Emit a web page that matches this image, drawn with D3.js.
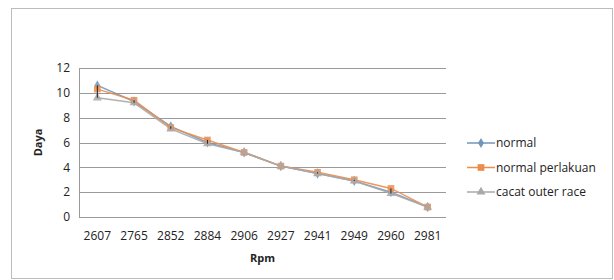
<!DOCTYPE html>
<meta charset="utf-8">
<html>
<head>
<style>
  body { margin: 0; background: #fff; }
  text { font-family: "Open Sans", sans-serif; fill: #222; }
</style>
</head>
<body>
<div id="chart"></div>
<script src="https://d3js.org/d3.v7.min.js"></script>
<script>
// data
const rpm = ["2607", "2765", "2852", "2884", "2906", "2927", "2941", "2949", "2960", "2981"];
const normal = [10.6, 9.3, 7.3, 6.0, 5.2, 4.1, 3.5, 2.9, 2.0, 0.8];
const normalPerlakuan = [10.3, 9.4, 7.2, 6.2, 5.2, 4.1, 3.6, 3.0, 2.3, 0.8];
const cacatOuterRace = [9.6, 9.2, 7.1, 5.9, 5.2, 4.1, 3.5, 2.9, 1.9, 0.8];
const yTicks = [0, 2, 4, 6, 8, 10, 12];

const series = [
  { name: "normal", values: normal, color: "#7096bb", shape: d3.symbolDiamond, size: 30 },
  { name: "normal perlakuan", values: normalPerlakuan, color: "#ec8d4e", shape: d3.symbolSquare, size: 45 },
  { name: "cacat outer race", values: cacatOuterRace, color: "#a9a9a9", shape: d3.symbolTriangle, size: 35 }
];

const W = 614, H = 280;
const svg = d3.select("#chart").append("svg").attr("width", W).attr("height", H);

// outer frame
svg.append("rect").attr("x", 11.5).attr("y", 8.5).attr("width", 601).attr("height", 270)
  .attr("fill", "none").attr("stroke", "#bcbcbc");

const x = d3.scaleBand().domain(rpm).range([79, 446]);
const y = d3.scaleLinear().domain([0, 12]).range([217, 68]);

// gridlines
svg.append("g").selectAll("line").data(yTicks).join("line")
  .attr("x1", 79).attr("x2", 446)
  .attr("y1", d => Math.round(y(d)) + 0.5).attr("y2", d => Math.round(y(d)) + 0.5)
  .attr("stroke", "#9a9a9a").attr("stroke-width", 1);

svg.append("line").attr("x1", 79.5).attr("x2", 79.5).attr("y1", y(12)).attr("y2", y(0))
  .attr("stroke", "#9a9a9a");

// y tick labels
svg.append("g").selectAll("text").data(yTicks).join("text")
  .attr("x", 70).attr("y", d => y(d)).attr("dy", "0.35em")
  .attr("text-anchor", "end").style("font-size", "12px").text(d => d);

// x tick labels
svg.append("g").selectAll("text").data(rpm).join("text")
  .attr("x", d => x(d) + x.bandwidth() / 2).attr("y", 240)
  .attr("text-anchor", "middle").style("font-size", "12px").text(d => d);

// axis titles
svg.append("text").attr("transform", "translate(42," + ((y(0) + y(12)) / 2) + ") rotate(-90)")
  .attr("text-anchor", "middle").style("font-size", "11px").style("font-weight", "bold").text("Daya");
svg.append("text").attr("x", (79 + 446) / 2).attr("y", 262)
  .attr("text-anchor", "middle").style("font-size", "11px").style("font-weight", "bold").text("Rpm");

const cx = d => x(d) + x.bandwidth() / 2;
const line = d3.line().x((v, i) => cx(rpm[i])).y(v => y(v));

// lines
series.forEach(s => {
  svg.append("path").datum(s.values).attr("d", line)
    .attr("fill", "none").attr("stroke", s.color).attr("stroke-width", 1.5).attr("opacity", 0.9);
});

// markers
series.forEach(s => {
  svg.append("g").selectAll("path").data(s.values).join("path")
    .attr("transform", (v, i) => "translate(" + cx(rpm[i]) + "," + y(v) + ")")
    .attr("d", d3.symbol().type(s.shape).size(s.size))
    .attr("fill", s.color).attr("opacity", 0.85);
});

// small dark spread bars
svg.append("g").selectAll("line").data(rpm).join("line")
  .attr("x1", d => cx(d)).attr("x2", d => cx(d))
  .attr("y1", (d, i) => y(d3.max(series, s => s.values[i])))
  .attr("y2", (d, i) => y(d3.min(series, s => s.values[i])))
  .attr("stroke", "#222").attr("stroke-width", 1);

// legend
const lg = svg.append("g").selectAll("g").data(series).join("g")
  .attr("transform", (s, i) => "translate(467," + (143 + i * 24.5) + ")");
lg.append("line").attr("x1", 0).attr("x2", 28).attr("stroke", d => d.color).attr("stroke-width", 1.5);
lg.append("path").attr("transform", "translate(14,0)")
  .attr("d", d => d3.symbol().type(d.shape).size(d.size)())
  .attr("fill", d => d.color);
lg.append("text").attr("x", 29).attr("dy", "0.35em").style("font-size", "12px").text(d => d.name);
</script>
</body>
</html>
